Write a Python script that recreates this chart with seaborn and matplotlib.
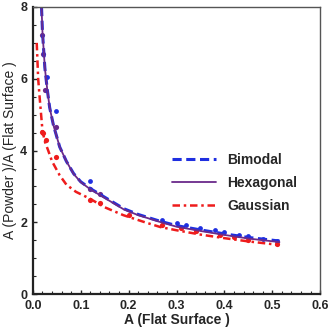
import matplotlib
matplotlib.use("Agg")
import matplotlib.pyplot as plt
from matplotlib.ticker import MultipleLocator
import seaborn as sns
import pandas as pd

# fitted curves
x_hex = [0.018, 0.02, 0.025, 0.03, 0.035, 0.043, 0.056, 0.07, 0.085, 0.1, 0.12, 0.14,
         0.16, 0.19, 0.22, 0.266, 0.3, 0.35, 0.4, 0.45, 0.515]
y_hex = [8.0, 7.3, 6.3, 5.7, 5.2, 4.7, 4.1, 3.7, 3.35, 3.12, 2.92, 2.76,
         2.6, 2.36, 2.2, 2.01, 1.88, 1.76, 1.65, 1.55, 1.45]
y_bim = [8.0, 7.3, 6.3, 5.7, 5.2, 4.7, 4.1, 3.7, 3.36, 3.13, 2.94, 2.78,
         2.62, 2.38, 2.22, 2.03, 1.91, 1.79, 1.68, 1.58, 1.48]
x_gau = [0.008, 0.011, 0.0146, 0.02, 0.025, 0.032, 0.04, 0.056, 0.07, 0.09, 0.119,
         0.15, 0.189, 0.23, 0.266, 0.3, 0.35, 0.4, 0.45, 0.515]
y_gau = [7.0, 6.0, 5.4, 4.55, 4.25, 4.0, 3.7, 3.31, 3.05, 2.85, 2.66,
         2.42, 2.2, 2.02, 1.87, 1.78, 1.66, 1.56, 1.47, 1.37]

# measured points
pts_blue_x = [0.029, 0.048, 0.12, 0.27, 0.3, 0.32, 0.35, 0.38, 0.4, 0.43, 0.45, 0.48, 0.51]
pts_blue_y = [6.05, 5.1, 3.15, 2.07, 1.98, 1.93, 1.85, 1.78, 1.73, 1.66, 1.62, 1.55, 1.49]
pts_purple_x = [0.019, 0.0216, 0.026, 0.048, 0.12, 0.14]
pts_purple_y = [7.23, 6.7, 5.68, 4.66, 2.92, 2.78]
pts_red_x = [0.02, 0.021, 0.027, 0.048, 0.12, 0.14, 0.2, 0.27, 0.31, 0.34, 0.39, 0.42, 0.45, 0.51]
pts_red_y = [4.52, 4.48, 4.29, 3.82, 2.63, 2.55, 2.2, 1.92, 1.83, 1.75, 1.66, 1.6, 1.52, 1.4]

blue = "#1f2fe0"
purple = "#6a2a8a"
red = "#ee1c1c"

sns.set_style("white")
plt.rcParams['font.family'] = ['Liberation Sans', 'DejaVu Sans']

fig = plt.figure(figsize=(3.29, 3.32), dpi=100)
ax = fig.add_axes([0.1, 0.114, 0.873, 0.865])

sns.scatterplot(x=pts_blue_x, y=pts_blue_y, color=blue, s=12, linewidth=0, ax=ax)
sns.scatterplot(x=pts_red_x, y=pts_red_y, color=red, s=14, linewidth=0, ax=ax)
sns.scatterplot(x=pts_purple_x, y=pts_purple_y, color=purple, s=14, linewidth=0, ax=ax)

sns.lineplot(x=x_hex, y=y_bim, color=blue, linestyle=(0, (3, 1.5)), linewidth=2.2,
             label="Bimodal", ax=ax)
sns.lineplot(x=x_hex, y=y_hex, color=purple, linestyle="-", linewidth=1.3,
             label="Hexagonal", ax=ax)
sns.lineplot(x=x_gau, y=y_gau, color=red, linestyle=(0, (3, 1.5, 1, 1.5)), linewidth=1.8,
             label="Gaussian", ax=ax)

ax.set_xlim(0, 0.6)
ax.set_ylim(0, 8)
ax.xaxis.set_major_locator(MultipleLocator(0.1))
ax.xaxis.set_minor_locator(MultipleLocator(0.02))
ax.yaxis.set_major_locator(MultipleLocator(2))
ax.yaxis.set_minor_locator(MultipleLocator(0.5))
ax.set_xticklabels([f"{v:.1f}" for v in ax.get_xticks()])
ax.set_yticklabels([f"{v:.0f}" for v in ax.get_yticks()])
ax.tick_params(axis="both", which="major", direction="in", length=3, width=1,
               labelsize=9, bottom=True, left=True)
ax.tick_params(axis="x", which="major", pad=4)
ax.tick_params(axis="y", which="major", pad=4)
ax.tick_params(axis="both", which="minor", direction="in", length=2, width=0.8,
               bottom=True, left=True)
for lab in ax.get_xticklabels() + ax.get_yticklabels():
    lab.set_fontweight("bold")

for side in ["left", "bottom"]:
    ax.spines[side].set_color("#222222")
    ax.spines[side].set_linewidth(1.6)
for side in ["top", "right"]:
    ax.spines[side].set_color("#555555")
    ax.spines[side].set_linewidth(1.0)

ax.set_xlabel("A (Flat Surface )", fontsize=10, fontweight="bold", labelpad=1)
ax.set_ylabel("A (Powder )/A (Flat Surface )", fontsize=10, labelpad=2)

leg = ax.legend(loc="upper left", bbox_to_anchor=(0.44, 0.535), frameon=False,
                fontsize=10, handlelength=3.2, labelspacing=0.65, handletextpad=0.8)
for t in leg.get_texts():
    t.set_fontweight("bold")

fig.savefig("out.png", dpi=100)
